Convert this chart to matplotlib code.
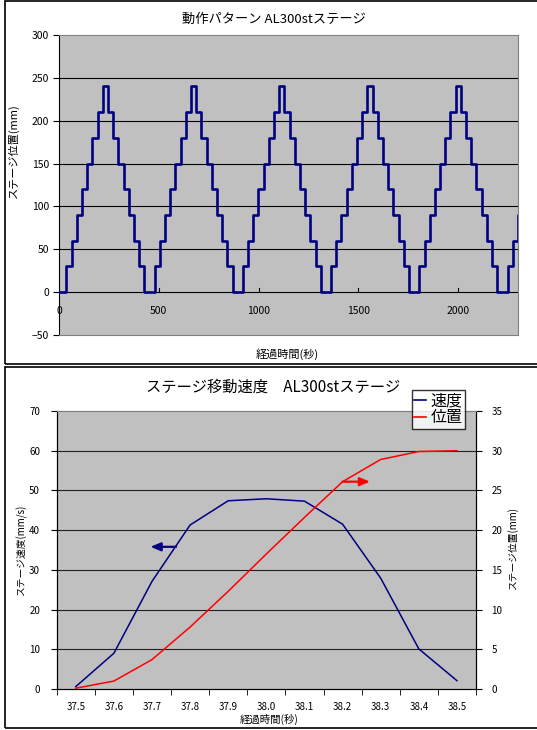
import matplotlib
matplotlib.use("Agg")
import matplotlib.pyplot as plt
import numpy as np
from matplotlib.patches import Rectangle

plt.rcParams['font.family'] = ['Noto Sans CJK JP', 'DejaVu Sans']

# --- stage motion pattern (top) ---
# levels reached at each move within one up/down cycle (mm)
cycle_levels = [30, 60, 90, 120, 150, 180, 210, 240, 210, 180, 150, 120, 90, 60, 30, 0]
# time of each move after the start of a cycle (s)
step_offsets = [0, 26, 52, 78, 104, 130, 156, 182, 208, 234, 260, 286, 312, 338, 364, 390]
# time at which each cycle begins (s)
cycle_starts = [37.5, 479.5, 921.5, 1363.5, 1805.5, 2247.5]
time_ticks = [0, 500, 1000, 1500, 2000]

# --- single move, speed and position (bottom) ---
time_labels = ["37.5", "37.6", "37.7", "37.8", "37.9", "38.0",
               "38.1", "38.2", "38.3", "38.4", "38.5"]
speed = [0.6, 9.0, 27.1, 41.3, 47.4, 47.9, 47.3, 41.5, 27.9, 10.1, 2.1]
position = [0.1, 1.0, 3.7, 7.8, 12.3, 17.0, 21.6, 26.1, 28.9, 29.9, 30.0]

W, H = 537, 730
fig = plt.figure(figsize=(W / 100, H / 100), dpi=100)
fig.patch.set_facecolor('white')

def fx(px):
    return px / W

def fy(py):
    return 1 - py / H

GRAY = '#c0c0c0'
NAVY = '#000080'

# outer frames of the two charts
for y0, y1 in [(1, 364), (367, 728)]:
    fig.patches.append(Rectangle((fx(5), fy(y1)), 1.2, fy(y0) - fy(y1),
                                 transform=fig.transFigure, fill=False,
                                 edgecolor='black', linewidth=1.2))

# ---------------- top chart ----------------
t = [0.0]
y = [0]
for s in cycle_starts:
    for off, lv in zip(step_offsets, cycle_levels):
        t.append(s + off)
        y.append(lv)
t.append(2400)
y.append(y[-1])

ax1 = fig.add_axes([fx(59), fy(335), fx(518) - fx(59), fy(35) - fy(335)])
ax1.set_facecolor(GRAY)
ax1.set_xlim(0, 2300)
ax1.set_ylim(-50, 300)
for v in range(0, 300, 50):
    ax1.axhline(v, color='black', linewidth=0.8, zorder=1)
ax1.plot(t, y, drawstyle='steps-post', color=NAVY, linewidth=1.9, zorder=3)
ax1.set_yticks(range(-50, 301, 50))
ax1.set_yticklabels(['−50'] + [str(v) for v in range(0, 301, 50)])
ax1.set_xticks([])
ax1.tick_params(axis='y', direction='out', length=4, labelsize=7.5, pad=3)
# x axis sits on the zero line: small ticks and labels just under it
for xt in time_ticks:
    if xt > 0:
        ax1.plot([xt, xt], [0, 5], color='black', linewidth=0.8, zorder=2)
    ax1.annotate(str(xt), xy=(xt, 0), xytext=(0, -13.5), textcoords='offset points',
                 ha='center', va='center', fontsize=7.5, annotation_clip=False)
for sp in ['top', 'right', 'bottom']:
    ax1.spines[sp].set_color('#808080')
ax1.spines['left'].set_color('black')

fig.text(fx(274), fy(19.5), '動作パターン AL300stステージ', ha='center', va='center', fontsize=9.5)
fig.text(fx(287), fy(354), '経過時間(秒)', ha='center', va='center', fontsize=8)
fig.text(fx(13), fy(151), 'ステージ位置(mm)', ha='center', va='center',
         rotation=90, fontsize=8)

# ---------------- bottom chart ----------------
idx = np.arange(len(time_labels))
ax2 = fig.add_axes([fx(56.7), fy(689), fx(476) - fx(56.7), fy(411) - fy(689)])
ax2.set_facecolor(GRAY)
ax2.set_xlim(-0.5, len(time_labels) - 0.5)
ax2.set_ylim(0, 70)
for v in range(10, 70, 10):
    ax2.axhline(v, color='#202020', linewidth=0.8, zorder=1)
ax2.plot(idx, speed, color=NAVY, linewidth=1.1, zorder=3)
ax2.set_yticks(range(0, 71, 10))
ax2.set_xticks(idx)
ax2.set_xticklabels(time_labels)
ax2.set_xticks(np.arange(-0.5, len(time_labels), 1.0), minor=True)
ax2.tick_params(axis='x', which='major', length=0, labelsize=7, pad=9)
ax2.tick_params(axis='x', which='minor', length=4, direction='out')
ax2.tick_params(axis='y', length=4, direction='out', labelsize=7, pad=8)
ax2.spines['top'].set_color('#808080')

ax3 = ax2.twinx()
ax3.set_ylim(0, 35)
ax3.plot(idx, position, color='red', linewidth=1.1, zorder=3)
ax3.set_yticks(range(0, 36, 5))
ax3.tick_params(axis='y', length=4, direction='out', labelsize=7, pad=7)
ax3.spines['top'].set_color('#808080')

# arrows pointing to each line's axis
ax2.annotate('', xy=(1.96, 35.8), xytext=(2.63, 35.8),
             arrowprops=dict(arrowstyle='-|>,head_length=0.6,head_width=0.25',
                             color=NAVY, lw=1.6, shrinkA=0, shrinkB=0))
ax3.annotate('', xy=(7.72, position[7]), xytext=(7.0, position[7]),
             arrowprops=dict(arrowstyle='-|>,head_length=0.6,head_width=0.25',
                             color='red', lw=1.6, shrinkA=0, shrinkB=0))

h1, = ax2.plot([], [], color=NAVY, linewidth=1.2)
h2, = ax2.plot([], [], color='red', linewidth=1.2)
leg = fig.legend([h1, h2], ['速度', '位置'], loc='upper left',
                 bbox_to_anchor=(fx(412), fy(390)), fontsize=11.5,
                 frameon=True, fancybox=False, edgecolor='black',
                 handlelength=0.7, handletextpad=0.3, borderpad=0.15,
                 labelspacing=0.0, borderaxespad=0)
leg.get_frame().set_linewidth(1.0)

fig.text(fx(273), fy(387), 'ステージ移動速度　AL300stステージ', ha='center', va='center', fontsize=11)
fig.text(fx(269), fy(719), '経過時間(秒)', ha='center', va='center', fontsize=7.5)
fig.text(fx(21), fy(550), 'ステージ速度(mm/s)', ha='center', va='center',
         rotation=90, fontsize=7)
fig.text(fx(513), fy(548), 'ステージ位置(mm)', ha='center', va='center',
         rotation=90, fontsize=7)

fig.savefig('out.png', dpi=100)
